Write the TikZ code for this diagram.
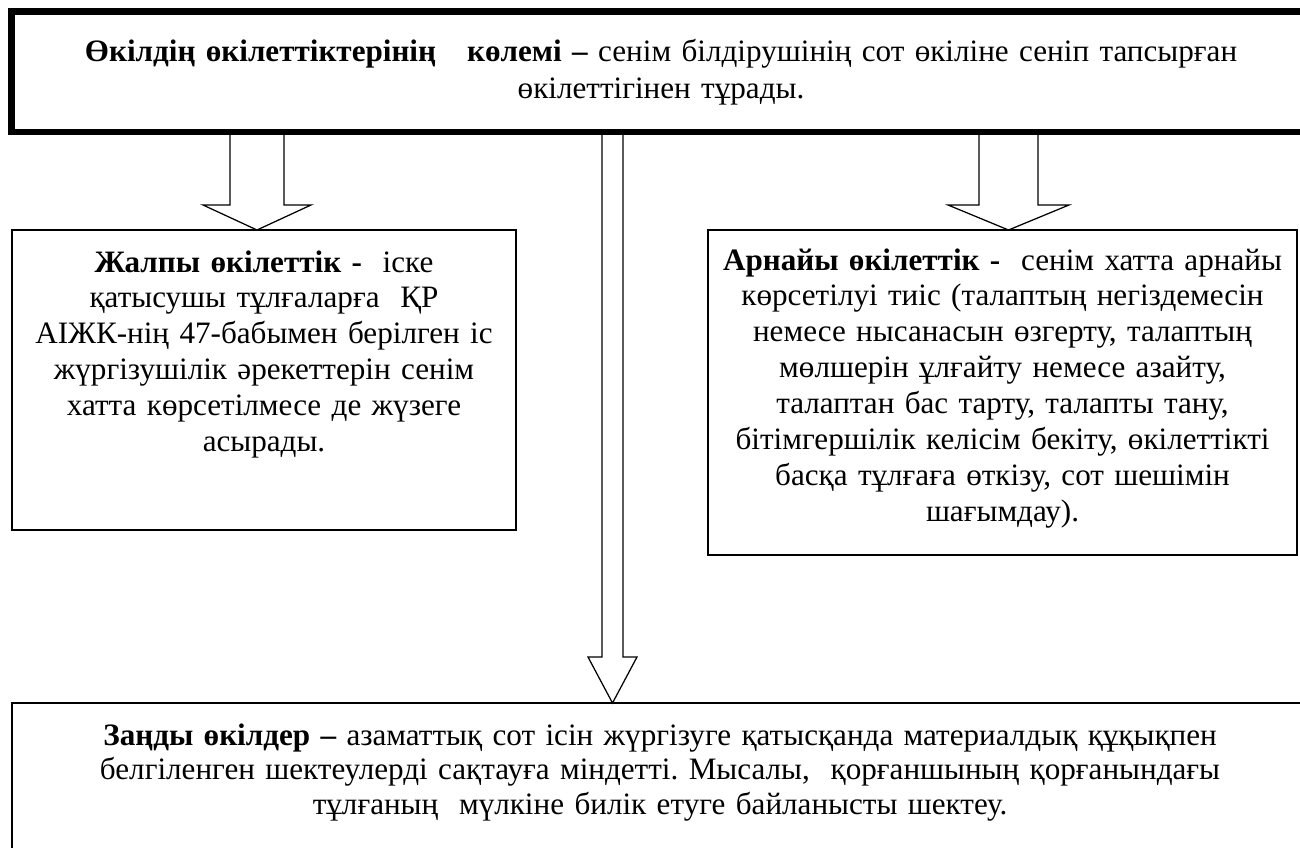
\documentclass[tikz,border=0pt]{standalone}
\usepackage{fontspec}
\setmainfont{Liberation Serif}
\usetikzlibrary{calc}
\frenchspacing

\tikzset{
	box/.style = {draw, line width = 0.9pt, inner sep = 0pt, outer sep = 0pt},
	txt/.style = {draw = none, align = center, inner sep = 0pt, anchor = base},
	hollow/.style = {line width = 0.9pt, line join = miter}
}
\newcommand{\txtfont}[1]{\fontsize{22.5pt}{#1}\selectfont}

\begin{document}
\begin{tikzpicture}
		\useasboundingbox (0in,0in) rectangle (13in,-8.48in);
		% Top box
		\node [box, line width = 5pt, minimum width = 12.994in, minimum height = 1.203in, anchor = north west] (topbox) at (0.117in,-0.117in) {};
		\node [txt, text width = 12.8in, font = \txtfont{27.4pt}] (toptext) at (6.61in,-0.61in) {\textbf{Өкілдің өкілеттіктерінің~~ көлемі –} сенім білдірушінің сот өкіліне сеніп тапсырған\\ өкілеттігінен тұрады.};
		% General powers
		\node [box, minimum width = 5.04in, minimum height = 3.0in, anchor = north west] (jalpy) at (0.12in,-2.30in) {};
		\node [txt, text width = 6in, font = \txtfont{25.92pt}] (jalpytext) at (2.64in,-2.72in) {\textbf{Жалпы өкілеттік -}~ іске\\ қатысушы тұлғаларға~ ҚР\\ АІЖК-нің 47-бабымен берілген іс\\ жүргізушілік әрекеттерін сенім\\ хатта көрсетілмесе де жүзеге\\ асырады.};
		% Special powers
		\node [box, minimum width = 5.89in, minimum height = 3.25in, anchor = north west] (arnayy) at (7.08in,-2.30in) {};
		\node [txt, text width = 7in, font = \txtfont{25.92pt}] (arnayytext) at (10.025in,-2.70in) {\textbf{Арнайы өкілеттік -}~ сенім хатта арнайы\\ көрсетілуі тиіс (талаптың негіздемесін\\ немесе нысанасын өзгерту, талаптың\\ мөлшерін ұлғайту немесе азайту,\\ талаптан бас тарту, талапты тану,\\ бітімгершілік келісім бекіту, өкілеттікті\\ басқа тұлғаға өткізу, сот шешімін\\ шағымдау).};
		% Legal representatives
		\node [box, minimum width = 12.98in, minimum height = 2.2in, anchor = north west] (zandy) at (0.12in,-7.03in) {};
		\node [txt, text width = 12.8in, font = \txtfont{25.2pt}] (zandytext) at (6.60in,-7.45in) {\textbf{Заңды өкілдер –} азаматтық сот ісін жүргізуге қатысқанда материалдық құқықпен\\ белгіленген шектеулерді сақтауға міндетті. Мысалы,~ қорғаншының қорғанындағы\\ тұлғаның~ мүлкіне билік етуге байланысты шектеу.};
		% Arrow positions
		\coordinate (la) at (2.57in,0in);
		\coordinate (ma) at (6.125in,0in);
		\coordinate (ra) at (10.085in,0in);
		% Left arrow
		\draw [hollow] ($(topbox.south -| la) + (-0.27in,0)$) -- ($(jalpy.north -| la) + (-0.27in,0.25in)$) -- ($(jalpy.north -| la) + (-0.54in,0.25in)$) -- (jalpy.north -| la) -- ($(jalpy.north -| la) + (0.54in,0.25in)$) -- ($(jalpy.north -| la) + (0.27in,0.25in)$) -- ($(topbox.south -| la) + (0.27in,0)$);
		% Middle arrow
		\draw [hollow] ($(topbox.south -| ma) + (-0.105in,0)$) -- ($(zandy.north -| ma) + (-0.105in,0.46in)$) -- ($(zandy.north -| ma) + (-0.245in,0.46in)$) -- (zandy.north -| ma) -- ($(zandy.north -| ma) + (0.245in,0.46in)$) -- ($(zandy.north -| ma) + (0.105in,0.46in)$) -- ($(topbox.south -| ma) + (0.105in,0)$);
		% Right arrow
		\draw [hollow] ($(topbox.south -| ra) + (-0.295in,0)$) -- ($(arnayy.north -| ra) + (-0.295in,0.25in)$) -- ($(arnayy.north -| ra) + (-0.605in,0.25in)$) -- (arnayy.north -| ra) -- ($(arnayy.north -| ra) + (0.605in,0.25in)$) -- ($(arnayy.north -| ra) + (0.295in,0.25in)$) -- ($(topbox.south -| ra) + (0.295in,0)$);
\end{tikzpicture}
\end{document}
